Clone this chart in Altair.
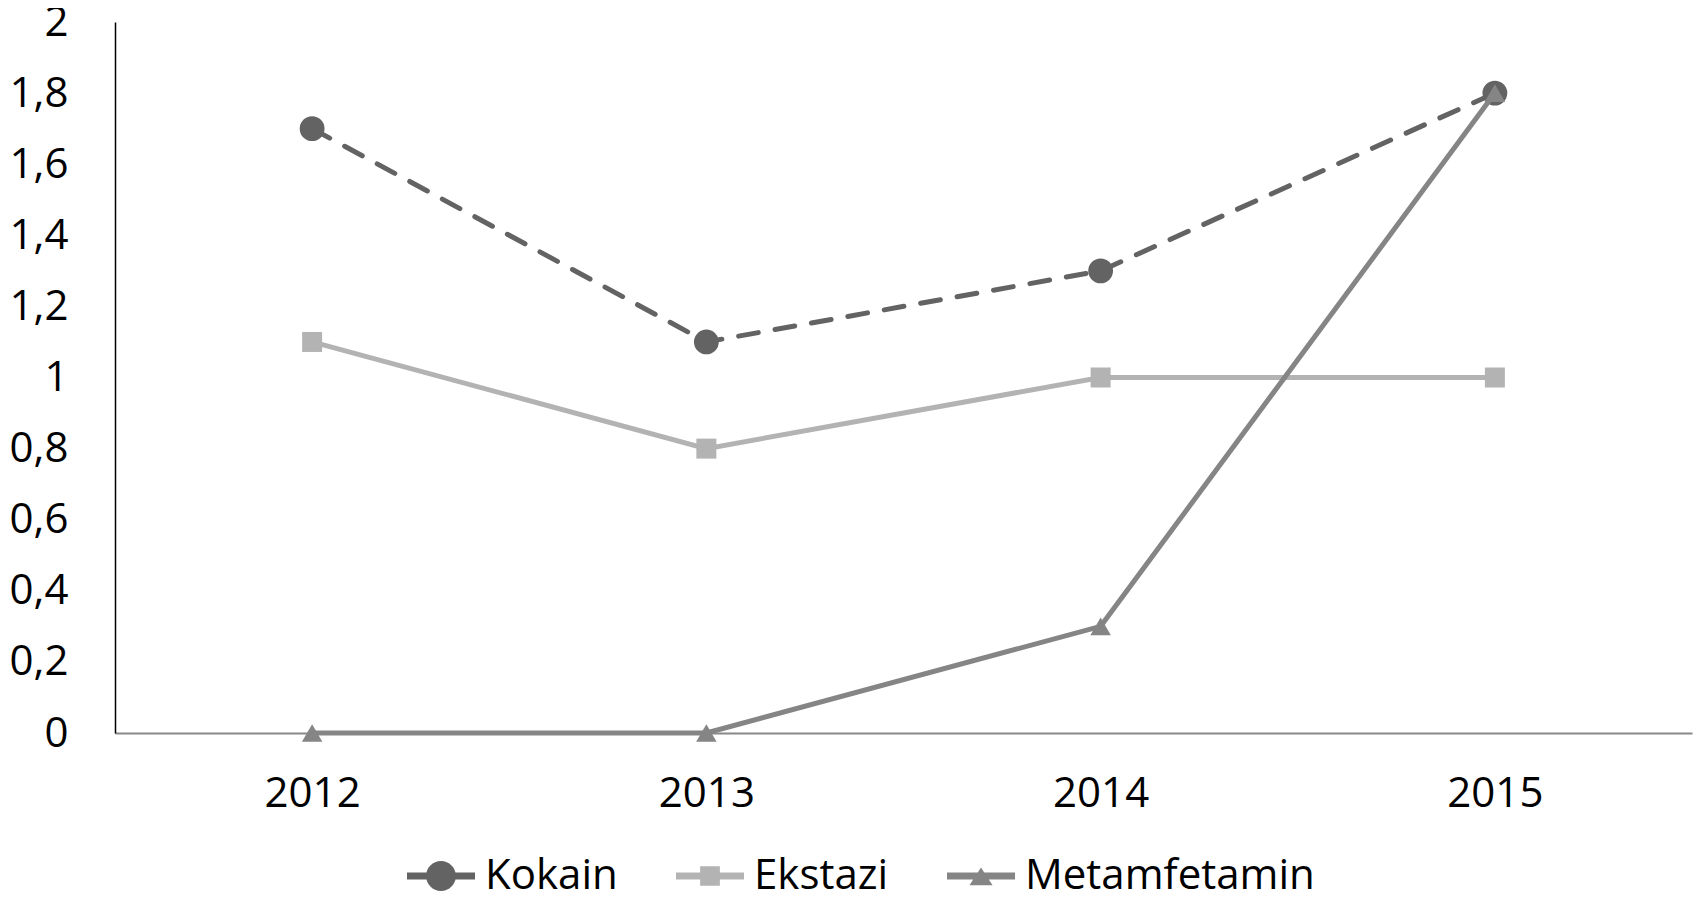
import altair as alt
import pandas as pd

years = ["2012", "2013", "2014", "2015"]
series_names = ["Kokain", "Ekstazi", "Metamfetamin"]
kokain = [1.7, 1.1, 1.3, 1.8]
ekstazi = [1.1, 0.8, 1.0, 1.0]
metamfetamin = [0.0, 0.0, 0.3, 1.8]
y_ticks = [0, 0.2, 0.4, 0.6, 0.8, 1.0, 1.2, 1.4, 1.6, 1.8, 2.0]

rows = []
for name, vals in zip(series_names, [kokain, ekstazi, metamfetamin]):
    for yr, v in zip(years, vals):
        rows.append({"year": yr, "series": name, "value": v})
df = pd.DataFrame(rows)

colors = {"Kokain": "#636363", "Ekstazi": "#b3b3b3", "Metamfetamin": "#858585"}
shapes = {"Kokain": "circle", "Ekstazi": "square", "Metamfetamin": "triangle-up"}
sizes = {"Kokain": 616, "Ekstazi": 400, "Metamfetamin": 420}

FONT = "Open Sans"

x_enc = alt.X(
    "year:N",
    sort=years,
    scale=alt.Scale(paddingInner=0, paddingOuter=0),
    axis=alt.Axis(
        title=None, labelAngle=0, ticks=False, grid=False,
        domainColor="#888888", domainWidth=2,
        labelFont=FONT, labelFontSize=42, labelColor="black", labelPadding=40,
    ),
)
y_enc = alt.Y(
    "value:Q",
    scale=alt.Scale(domain=[0, 2], nice=False),
    axis=alt.Axis(
        title=None, values=y_ticks, ticks=False, grid=False,
        domainColor="black", domainWidth=1.5,
        labelFont=FONT, labelFontSize=42, labelColor="black", labelPadding=47,
        labelExpr="replace(format(datum.value, '.1~f'), '.', ',')",
    ),
)

base = alt.Chart(df)
layers = []
for name in series_names:
    sub = base.transform_filter(alt.datum.series == name)
    line_kwargs = dict(color=colors[name], strokeWidth=5)
    if name == "Kokain":
        line_kwargs.update(strokeDash=[20, 17], strokeCap="round")
    layers.append(sub.mark_line(**line_kwargs).encode(x=x_enc, y=y_enc))
    layers.append(
        sub.mark_point(filled=True, opacity=1, shape=shapes[name], size=sizes[name],
                       color=colors[name], strokeWidth=0).encode(x=x_enc, y=y_enc)
    )

legend_paths = [
    "M-1,-0.1H1V0.1H-1Z M-0.44,0A0.44,0.44 0 1,1 0.44,0A0.44,0.44 0 1,1 -0.44,0Z",
    "M-1,-0.1H1V0.1H-1Z M-0.29,-0.29H0.29V0.29H-0.29Z",
    "M-1,-0.1H1V0.1H-1Z M0,-0.25L0.34,0.27L-0.34,0.27Z",
]

legend_props = dict(
    orient="none", legendX=292, legendY=820, direction="horizontal",
    title=None, labelFont=FONT, labelFontSize=42, labelColor="black",
    symbolSize=4624, labelOffset=10, columnPadding=58, symbolStrokeWidth=0,
    labelLimit=600, symbolOpacity=1,
)

legend_layer = base.transform_filter("false").mark_point(filled=True, opacity=1).encode(
    x=x_enc,
    y=y_enc,
    color=alt.Color(
        "series:N",
        scale=alt.Scale(domain=series_names, range=[colors[n] for n in series_names]),
        legend=alt.Legend(**legend_props),
    ),
    shape=alt.Shape(
        "series:N",
        scale=alt.Scale(domain=series_names, range=legend_paths),
        legend=alt.Legend(**legend_props),
    ),
)

chart = alt.layer(*layers, legend_layer).properties(
    width=1577,
    height=711,
    padding={"left": 107, "top": 14, "right": 2, "bottom": 172},
    autosize=alt.AutoSizeParams(type="none"),
    background="white",
).configure_view(stroke=None)

chart.save("out.html", embed_options={"renderer": "svg", "actions": False})
